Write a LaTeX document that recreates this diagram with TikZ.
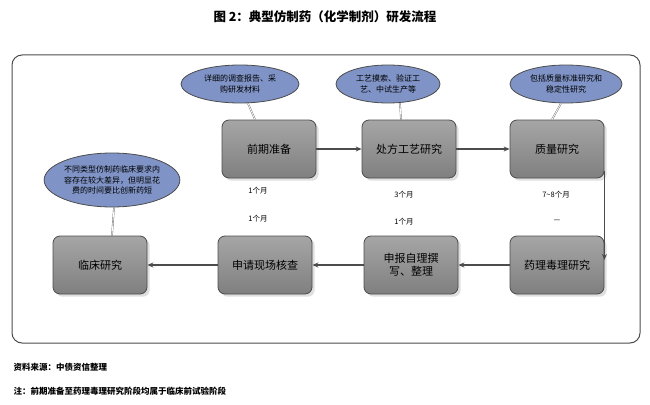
\documentclass[tikz,border=0pt]{standalone}
\usepackage{fontspec}
\setmainfont{Noto Sans CJK SC}
\usetikzlibrary{shapes.geometric,arrows.meta,shadows}
\definecolor{bub}{HTML}{7F93C6}
\tikzset{
 stepbox/.style={draw=black!70,line width=0.8pt,rounded corners=7pt,top color=black!35,bottom color=black!50,minimum width=94pt,minimum height=58pt,align=center,font=\fontsize{11}{13}\selectfont,drop shadow={opacity=0.25}},
 bubble/.style={ellipse,draw=black!70,line width=0.8pt,fill=bub,inner sep=0pt,align=center,font=\fontsize{8}{10.5}\selectfont},
 flow/.style={draw=black!70,line width=1.2pt,-{Stealth[length=6pt,width=5pt]}},
 tie/.style={draw=black!60,double=white,double distance=0.8pt,line width=0.4pt},
 mon/.style={font=\fontsize{7.5}{9}\selectfont}
}
\begin{document}
\begin{tikzpicture}[x=1pt,y=-1pt]
\useasboundingbox (0,0) rectangle (650,404);
\node[font=\bfseries\fontsize{12.5}{14}\selectfont] (title) at (325,17) {图 2：典型仿制药（化学制剂）研发流程};
\draw[black!70,line width=1pt,rounded corners=10pt] (12,55) rectangle (640,343);
\node[stepbox] (a) at (269,149) {前期准备};
\node[stepbox] (b) at (409,149) {处方工艺研究};
\node[stepbox] (c) at (557,149) {质量研究};
\node[stepbox] (d) at (557,265) {药理毒理研究};
\node[stepbox] (e) at (411,265) {申报自理撰\\写、整理};
\node[stepbox] (f) at (265,265) {申请现场核查};
\node[stepbox] (g) at (100,265) {临床研究};
\node[bubble,minimum width=118pt,minimum height=38pt] (ba) at (240,84) {详细的调查报告、采\\购研发材料};
\node[bubble,minimum width=104pt,minimum height=38pt] (bb) at (388,84) {工艺摸索、验证工\\艺、中试生产等};
\node[bubble,minimum width=112pt,minimum height=38pt] (bc) at (566,84) {包括质量标准研究和\\稳定性研究};
\node[bubble,minimum width=132pt,minimum height=54pt] (bg) at (112,180) {不同类型仿制药临床要求内\\容存在较大差异，但明显花\\费的时间要比创新药短};
\draw[tie] (ba.south) ++(8,0) -- ([xshift=-14pt]a.north);
\draw[tie] (bb.south) ++(12,0) -- ([xshift=-8pt]b.north);
\draw[tie] (bc.south) ++(-5,0) -- ([xshift=-5pt]c.north);
\draw[tie] (bg.south) ++(2,0) -- ([xshift=12pt]g.north);
\draw[flow] (a) -- (b);
\draw[flow] (b) -- (c);
\coordinate (ct) at ([yshift=-22pt]c.east);
\coordinate (db) at ([yshift=5pt]d.east);
\draw[flow] (ct) -- (db);
\draw[flow] (d) -- (e);
\draw[flow] (e) -- (f);
\draw[flow] (f) -- (g);
\node[mon] (m1) at (258,191) {1个月};
\node[mon] (m2) at (404,195) {3个月};
\node[mon] (m3) at (556,195) {7\textasciitilde8个月};
\node[mon] (m4) at (258,219) {1个月};
\node[mon] (m5) at (404,222) {1个月};
\node[mon] (m6) at (557,221) {—};
\node[anchor=west,font=\bfseries\fontsize{8.5}{10}\selectfont] (s1) at (10,367) {资料来源：中债资信整理};
\node[anchor=west,font=\bfseries\fontsize{8.5}{10}\selectfont] (s2) at (10,391) {注：前期准备至药理毒理研究阶段均属于临床前试验阶段};
\end{tikzpicture}
\end{document}
